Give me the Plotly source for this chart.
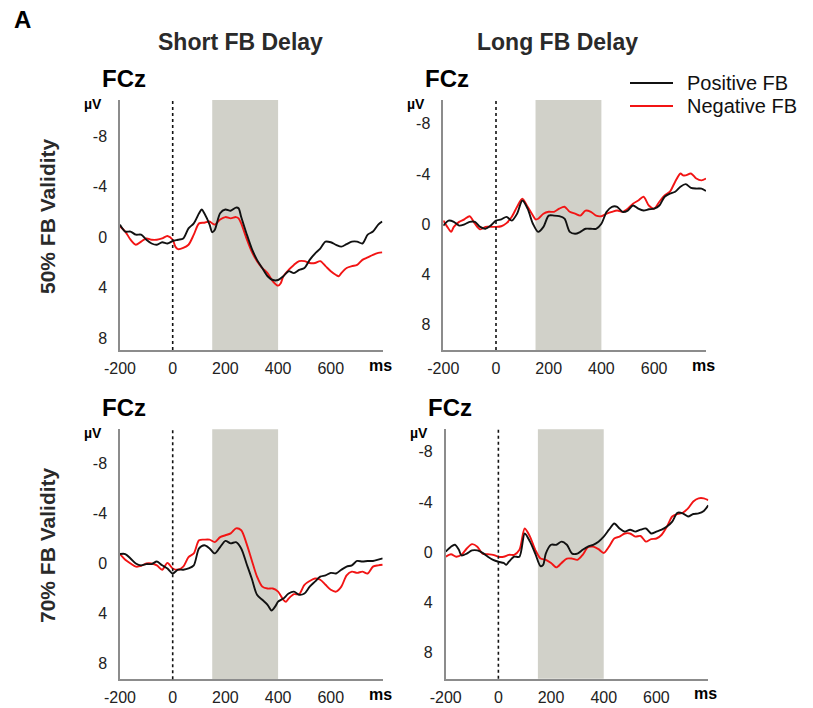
import plotly.graph_objects as go

# ---- ERP waveforms at FCz (µV, negative plotted upward) ----
# Short FB delay, 50% validity
short50_pos_t = [-200, -180, -160, -140, -120, -100, -80, -60, -40, -20, 0, 20, 40, 60, 80, 100,
                 110, 120, 140, 150, 160, 180, 200, 220, 240, 250, 260,
                 280, 300, 320, 340, 360, 380, 400, 420, 440, 460, 480, 500, 520, 540, 560, 580,
                 600, 620, 640, 660, 680, 700, 720, 740, 760, 780, 795]
short50_pos = [-1.0, -0.45, -0.45, -0.2, -0.2, 0.2, 0.5, 0.6, 0.4, 0.5, 0.3, 0.2, 0.1, -0.7, -1.1, -1.9,
               -2.2, -1.9, -1.0, -0.4, -0.6, -1.9, -2.2, -2.1, -2.35, -2.3, -1.6,
               -0.3, 0.9, 1.8, 2.45, 3.1, 3.4, 3.4, 3.1, 2.7, 2.85, 2.6, 2.45, 1.8, 1.3, 0.9, 0.35,
               0.4, 0.6, 0.75, 0.55, 0.35, 0.35, 0.5, -0.2, -0.45, -1.0, -1.25]
short50_neg_t = [-200, -180, -160, -140, -120, -100, -80, -60, -40, -20, 0, 10, 20, 40, 60, 80, 100,
                 120, 140, 150, 160, 180, 200, 220, 240, 250, 260,
                 280, 300, 320, 340, 360, 380, 400, 410, 420, 440, 460, 480, 500, 520, 540, 560, 580,
                 600, 620, 630, 640, 660, 680, 700, 720, 740, 760, 780, 795]
short50_neg = [-0.85, -0.45, 0.2, 0.6, 0.35, 0.1, 0.2, 0.2, 0.1, -0.1, 0.2, 0.75, 0.95, 0.85, 0.6, -0.2, -1.1,
               -1.15, -1.25, -1.1, -1.0, -1.4, -1.6, -1.5, -1.6, -1.5, -1.1,
               0.1, 1.15, 1.9, 2.45, 2.85, 3.5, 3.85, 3.65, 3.1, 2.6, 2.2, 1.9, 1.9, 2.05, 2.05, 1.9, 2.3,
               2.7, 3.0, 3.1, 2.85, 2.45, 2.3, 2.2, 1.8, 1.6, 1.4, 1.25, 1.2]

# Long FB delay, 50% validity
long50_pos_t = [-200, -180, -160, -140, -120, -100, -80, -60, -40, -20, 0, 20, 40, 60, 80, 100,
                120, 140, 160, 180, 200, 220, 240, 260, 280, 300, 320, 340, 360, 380, 400,
                420, 440, 460, 480, 500, 520, 540, 560, 580, 600, 620, 640, 660, 680, 700,
                720, 740, 760, 780, 797]
long50_pos = [0.1, -0.3, -0.2, 0.1, 0.0, -0.2, -0.2, 0.2, 0.35, 0.1, -0.3, -0.4, -0.6, -0.3, -0.85, -1.9,
              -1.25, -0.05, 0.6, 0.2, -0.7, -0.7, -0.65, -0.45, 0.6, 0.75, 0.6, 0.35, 0.35, 0.35, -0.05,
              -1.0, -1.4, -1.4, -1.0, -1.1, -1.5, -1.25, -1.1, -1.2, -1.25, -1.5, -2.2, -2.45, -2.6, -3.0,
              -3.2, -2.9, -2.85, -2.85, -2.65]
long50_neg_t = [-200, -180, -170, -160, -140, -120, -100, -80, -60, -40, -20, 0, 20, 40, 60, 80, 100,
                120, 140, 150, 160, 180, 200, 220, 240, 260, 280, 300, 320, 340, 360, 380, 400,
                420, 440, 460, 480, 500, 520, 540, 560, 580, 600, 620, 640, 660, 680, 700, 710,
                720, 740, 760, 780, 797]
long50_neg = [-0.3, 0.35, 0.6, 0.2, -0.2, -0.4, -0.65, -0.05, 0.4, 0.2, 0.2, 0.2, 0.15, -0.1, -0.6, -1.4, -2.05,
              -1.4, -0.7, -0.4, -0.45, -0.85, -1.0, -1.0, -1.25, -1.4, -1.0, -0.85, -0.7, -1.1, -1.0, -0.7, -0.65,
              -0.85, -1.0, -1.1, -1.0, -1.25, -1.65, -1.9, -2.2, -1.5, -1.25, -1.8, -2.3, -2.6, -3.4, -4.05, -3.9,
              -3.9, -4.05, -3.65, -3.5, -3.65]

# Short FB delay, 70% validity
short70_pos_t = [-200, -180, -160, -140, -120, -100, -80, -60, -40, -20, 0, 20, 40, 60, 80, 100,
                 120, 140, 160, 180, 200, 220, 240, 260, 280, 300, 320, 340, 360, 375, 390, 400,
                 420, 440, 460, 480, 500, 520, 540, 560, 580, 600, 620, 640, 660, 680, 700,
                 720, 740, 760, 780, 797]
short70_pos = [-0.75, -0.75, -0.4, 0.0, 0.15, 0.05, 0.05, -0.15, 0.15, 0.4, 0.8, 0.5, 0.5, 0.4, 0.15, -1.2,
               -1.45, -1.2, -0.8, -1.3, -1.8, -1.6, -1.7, -1.2, 0.0, 1.2, 2.5, 2.9, 3.3, 3.75, 3.4, 3.05,
               2.8, 2.4, 2.25, 2.5, 2.4, 1.85, 1.45, 1.05, 0.95, 0.75, 0.8, 0.5, 0.25, 0.15, -0.2,
               -0.15, -0.2, -0.2, -0.3, -0.4]
short70_neg_t = [-200, -180, -160, -140, -120, -100, -80, -60, -40, -20, 0, 20, 40, 60, 80, 100,
                 120, 140, 160, 180, 200, 220, 240, 260, 280, 300, 320, 340, 360, 380, 400,
                 420, 430, 440, 460, 480, 500, 520, 540, 560, 580, 600, 620, 640, 660, 680, 700,
                 720, 740, 760, 780, 797]
short70_neg = [-0.75, -0.3, 0.0, 0.25, 0.2, 0.0, 0.0, 0.15, 0.5, -0.05, 0.4, 0.5, 0.25, -0.5, -0.8, -1.85,
               -1.9, -1.9, -1.7, -2.1, -2.25, -2.4, -2.8, -2.65, -1.6, -0.25, 1.05, 1.85, 2.0, 2.0, 2.25,
               2.9, 3.05, 2.8, 2.45, 2.45, 1.7, 1.4, 1.2, 1.3, 1.7, 2.1, 2.25, 1.85, 0.95, 0.65, 0.75,
               0.65, 0.8, 0.25, 0.15, 0.1]

# Long FB delay, 70% validity
long70_pos_t = [-200, -180, -165, -150, -140, -120, -100, -80, -60, -40, -20, 0, 20, 30, 40, 60, 80, 100,
                120, 140, 160, 170, 180, 200, 220, 240, 260, 280, 300, 320, 340, 360, 380, 400,
                420, 440, 460, 480, 500, 520, 540, 560, 580, 600, 620, 640, 660, 680, 700,
                720, 740, 760, 780, 797]
long70_pos = [-0.05, -0.45, -0.6, -0.2, 0.25, 0.1, -0.15, -0.15, 0.05, 0.35, 0.6, 0.75, 0.85, 1.0, 0.75, 0.35, 0.35, -1.5,
              -0.85, 0.1, 1.1, 1.0, 0.1, -0.6, -0.6, -0.85, -0.6, 0.1, 0.1, -0.2, -0.45, -0.6, -0.85, -1.25,
              -1.8, -2.3, -1.9, -1.65, -1.8, -1.65, -1.8, -1.9, -1.5, -1.65, -1.8, -2.05, -2.45, -3.15, -3.1,
              -2.85, -3.05, -3.1, -3.3, -3.75]
long70_neg_t = [-200, -180, -160, -140, -120, -100, -80, -60, -40, -20, 0, 20, 40, 60, 80, 100,
                120, 140, 160, 180, 200, 220, 240, 260, 280, 300, 320, 340, 360, 380, 400,
                420, 440, 460, 480, 500, 520, 540, 560, 580, 600, 620, 640, 660, 680, 700,
                720, 740, 760, 780, 797]
long70_neg = [0.35, 0.15, 0.35, 0.2, -0.3, -0.65, -0.45, 0.1, 0.15, 0.2, 0.35, 0.35, 0.2, 0.2, -0.2, -1.9,
              -1.25, -0.2, 0.5, 0.6, 0.85, 1.2, 0.85, 0.5, 0.5, 0.6, 0.2, -0.4, -0.45, -0.25, 0.05,
              -0.45, -1.1, -1.25, -1.5, -1.5, -1.25, -1.3, -0.85, -1.05, -1.1, -1.4, -2.05, -2.85, -3.05, -3.15,
              -3.5, -4.05, -4.3, -4.3, -4.15]

# ---- axis settings ----
x_ticks = [-200, 0, 200, 400, 600]
y_ticks = [-8, -4, 0, 4, 8]
x_range = [-200, 797]
window = (150, 400)          # shaded analysis window (ms)
legend_labels = ["Positive FB", "Negative FB"]

W, H = 813, 708
POS_COLOR = "#111111"
NEG_COLOR = "#f21414"
AXIS_COLOR = "#8c8c8c"
SHADE = "#d1d1c9"
FONT = "Liberation Sans, Arial, sans-serif"

# panel pixel boxes: (left, right, top, bottom) and y range (bottom value, top value)
panels = [
    dict(box=(120, 382.7, 100, 350), yr=[8.96, -10.9],
         pos=(short50_pos_t, short50_pos), neg=(short50_neg_t, short50_neg)),
    dict(box=(443.3, 706, 100, 350), yr=[10.0, -9.9],
         pos=(long50_pos_t, long50_pos), neg=(long50_neg_t, long50_neg)),
    dict(box=(120, 382.7, 429.3, 679.3), yr=[9.24, -10.7],
         pos=(short70_pos_t, short70_pos), neg=(short70_neg_t, short70_neg)),
    dict(box=(445.7, 708.3, 429.3, 678.7), yr=[10.07, -9.8],
         pos=(long70_pos_t, long70_pos), neg=(long70_neg_t, long70_neg)),
]


def px_x(v):
    return v / W


def px_y(v):
    return 1 - v / H


fig = go.Figure()
shapes = []
annotations = []
layout_axes = {}

for i, p in enumerate(panels, start=1):
    sfx = "" if i == 1 else str(i)
    xref, yref = "x" + sfx, "y" + sfx
    l, r, t, b = p["box"]
    layout_axes["xaxis" + sfx] = dict(
        domain=[px_x(l), px_x(r)], range=x_range, anchor=yref, automargin=False,
        tickvals=x_ticks, ticktext=[str(v) for v in x_ticks],
        showline=True, linecolor=AXIS_COLOR, linewidth=1.5,
        showgrid=False, zeroline=False, ticks="", ticklabelstandoff=3,
        tickfont=dict(size=16, color="#222222", family=FONT),
    )
    layout_axes["yaxis" + sfx] = dict(
        domain=[px_y(b), px_y(t)], range=p["yr"], anchor=xref, automargin=False,
        tickvals=y_ticks, ticktext=[str(v) for v in y_ticks],
        showline=True, linecolor=AXIS_COLOR, linewidth=1.5,
        showgrid=False, zeroline=False, ticks="", ticklabelstandoff=8,
        tickfont=dict(size=16, color="#222222", family=FONT),
    )
    # shaded time window and stimulus-onset marker
    shapes.append(dict(type="rect", xref=xref, yref=yref + " domain",
                       x0=window[0], x1=window[1], y0=0, y1=1,
                       fillcolor=SHADE, line=dict(width=0), layer="below"))
    shapes.append(dict(type="line", xref=xref, yref=yref + " domain",
                       x0=0, x1=0, y0=0, y1=1,
                       line=dict(color="#111111", width=1.6, dash="dot")))

    for (tt, vv), name, color in ((p["neg"], "Negative FB", NEG_COLOR),
                                  (p["pos"], "Positive FB", POS_COLOR)):
        fig.add_trace(go.Scatter(
            x=tt, y=vv, mode="lines", name=name, xaxis=xref, yaxis=yref,
            line=dict(color=color, width=1.9, shape="spline", smoothing=0.8),
            showlegend=False, hoverinfo="skip",
        ))

    # electrode label, unit labels
    annotations.append(dict(text="FCz", x=px_x(l - 20), y=px_y(t - 22),
                            xanchor="left", yanchor="middle",
                            font=dict(size=24, color="#000000", family=FONT, weight="bold")))
    annotations.append(dict(text="µV", x=px_x(l - 16), y=px_y(t + 4),
                            xanchor="right", yanchor="middle",
                            font=dict(size=14, color="#000000", family=FONT, weight="bold")))
    annotations.append(dict(text="ms", x=px_x(r + 11), y=px_y(b + 15),
                            xanchor="right", yanchor="middle",
                            font=dict(size=16, color="#000000", family=FONT, weight="bold")))

# column / row headings and panel letter
annotations += [
    dict(text="A", x=px_x(12), y=px_y(20), xanchor="left", yanchor="middle",
         font=dict(size=24, color="#000000", family=FONT, weight="bold")),
    dict(text="Short FB Delay", x=px_x(240), y=px_y(42), xanchor="center", yanchor="middle",
         font=dict(size=23, color="#2a2a2a", family=FONT, weight="bold")),
    dict(text="Long FB Delay", x=px_x(557), y=px_y(42), xanchor="center", yanchor="middle",
         font=dict(size=23, color="#2a2a2a", family=FONT, weight="bold")),
    dict(text="50% FB Validity", x=px_x(47), y=px_y(216), xanchor="center", yanchor="middle",
         textangle=-90, font=dict(size=21, color="#2a2a2a", family=FONT, weight="bold")),
    dict(text="70% FB Validity", x=px_x(47), y=px_y(545), xanchor="center", yanchor="middle",
         textangle=-90, font=dict(size=21, color="#2a2a2a", family=FONT, weight="bold")),
]

# legend key: line sample + label for each condition
for k, (label, color) in enumerate(zip(legend_labels, [POS_COLOR, NEG_COLOR])):
    ly = 83 + 23 * k
    shapes.append(dict(type="line", xref="paper", yref="paper",
                       x0=px_x(630), x1=px_x(673), y0=px_y(ly), y1=px_y(ly),
                       line=dict(color=color, width=2)))
    annotations.append(dict(text=label, x=px_x(685), y=px_y(ly), xanchor="left", yanchor="middle",
                            font=dict(size=20, color="#111111", family=FONT)))

for a in annotations:
    a.update(xref="paper", yref="paper", showarrow=False)

fig.update_layout(
    width=W, height=H,
    margin=dict(l=0, r=0, t=0, b=0, autoexpand=False),
    paper_bgcolor="white", plot_bgcolor="white",
    shapes=shapes, annotations=annotations,
    showlegend=False,
    font=dict(family=FONT),
    **layout_axes,
)

fig.write_html("out.html")
